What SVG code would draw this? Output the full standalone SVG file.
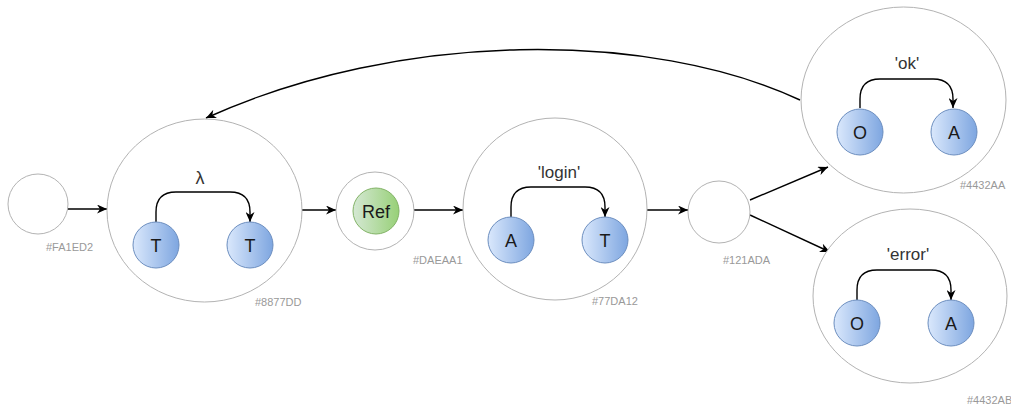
<svg xmlns="http://www.w3.org/2000/svg" width="1011" height="407" viewBox="0 0 1011 407">
  <defs>
    <linearGradient id="blueFill" x1="0" y1="0" x2="1" y2="0">
      <stop offset="0" stop-color="#dae8fc"/>
      <stop offset="1" stop-color="#7ea6e0"/>
    </linearGradient>
    <linearGradient id="greenFill" x1="0" y1="0" x2="1" y2="0">
      <stop offset="0" stop-color="#d5e8d4"/>
      <stop offset="1" stop-color="#97d077"/>
    </linearGradient>
    <marker id="arrow" viewBox="0 0 10 9" refX="10" refY="4.5" markerWidth="10" markerHeight="9" markerUnits="userSpaceOnUse" orient="auto">
      <path d="M0,0 L10,4.5 L0,9 L3,4.5 Z" fill="#000"/>
    </marker>
  </defs>
  <style>
    .outer { fill: #ffffff; stroke: #b3b3b3; stroke-width: 1; }
    .inner { fill: url(#blueFill); stroke: #6c8ebf; stroke-width: 1; }
    .ref { fill: url(#greenFill); stroke: #82b366; stroke-width: 1; }
    .edge { fill: none; stroke: #000; stroke-width: 1.4; marker-end: url(#arrow); }
    .glyph { font-family: "Liberation Sans", Arial, sans-serif; font-size: 18px; fill: #1a1a1a; text-anchor: middle; }
    .elabel { font-family: "Liberation Sans", Arial, sans-serif; font-size: 17px; fill: #333; text-anchor: middle; }
    .tag { font-family: "Liberation Sans", Arial, sans-serif; font-size: 11px; fill: #999; }
  </style>

  <rect width="1011" height="407" fill="#ffffff"/>

  <!-- connectors between the states -->
  <g id="connectors">
    <path class="edge" d="M67,209 H107"/>
    <path class="edge" d="M302,210 H336"/>
    <path class="edge" d="M414,210 H463"/>
    <path class="edge" d="M647,210 H688"/>
    <path class="edge" d="M750,200 L828,167"/>
    <path class="edge" d="M750,215 L830,252"/>
    <path class="edge" d="M800,100 C650,30 400,30 206,118"/>
  </g>

  <!-- initial state -->
  <g id="FA1ED2">
    <circle class="outer" cx="38" cy="204" r="30"/>
    <text class="tag" x="46" y="251">#FA1ED2</text>
  </g>

  <!-- lambda transition T -> T -->
  <g id="8877DD">
    <ellipse class="outer" cx="204.5" cy="210.5" rx="97.5" ry="91.5"/>
    <path class="edge" d="M156,222 V212 Q156,192 176,192 H230 Q250,192 250,212 V222"/>
    <text class="elabel" x="200" y="184" style="font-size:18px">λ</text>
    <circle class="inner" cx="156" cy="245" r="23"/>
    <text class="glyph" x="156" y="251.5">T</text>
    <circle class="inner" cx="250" cy="245" r="23"/>
    <text class="glyph" x="250" y="251.5">T</text>
    <text class="tag" x="255" y="306">#8877DD</text>
  </g>

  <!-- reference state -->
  <g id="DAEAA1">
    <circle class="outer" cx="375" cy="211" r="39"/>
    <circle class="ref" cx="376" cy="211" r="23"/>
    <text class="glyph" x="376" y="217.5">Ref</text>
    <text class="tag" x="413" y="264">#DAEAA1</text>
  </g>

  <!-- 'login' transition A -> T -->
  <g id="77DA12">
    <ellipse class="outer" cx="555" cy="209" rx="92" ry="91"/>
    <path class="edge" d="M511,217 V207 Q511,187 531,187 H585 Q605,187 605,207 V217"/>
    <text class="elabel" x="559" y="178">'login'</text>
    <circle class="inner" cx="511" cy="240" r="23"/>
    <text class="glyph" x="511" y="246.5">A</text>
    <circle class="inner" cx="605" cy="240" r="23"/>
    <text class="glyph" x="605" y="246.5">T</text>
    <text class="tag" x="592" y="305">#77DA12</text>
  </g>

  <!-- branching state -->
  <g id="121ADA">
    <circle class="outer" cx="719" cy="212" r="31"/>
    <text class="tag" x="723" y="264">#121ADA</text>
  </g>

  <!-- 'ok' transition O -> A -->
  <g id="4432AA">
    <ellipse class="outer" cx="903.5" cy="100" rx="102.5" ry="93"/>
    <path class="edge" d="M860,108 V99 Q860,79 880,79 H933 Q953,79 953,99 V108"/>
    <text class="elabel" x="907" y="69">'ok'</text>
    <circle class="inner" cx="860" cy="132" r="23"/>
    <text class="glyph" x="860" y="138.5">O</text>
    <circle class="inner" cx="954" cy="132" r="23"/>
    <text class="glyph" x="954" y="138.5">A</text>
    <text class="tag" x="960" y="189">#4432AA</text>
  </g>

  <!-- 'error' transition O -> A -->
  <g id="4432AB">
    <ellipse class="outer" cx="910" cy="296" rx="97" ry="87"/>
    <path class="edge" d="M857,300 V290 Q857,270 877,270 H931 Q951,270 951,290 V300"/>
    <text class="elabel" x="908" y="260">'error'</text>
    <circle class="inner" cx="857" cy="323" r="23"/>
    <text class="glyph" x="857" y="329.5">O</text>
    <circle class="inner" cx="951" cy="323" r="23"/>
    <text class="glyph" x="951" y="329.5">A</text>
    <text class="tag" x="967" y="404">#4432AB</text>
  </g>
</svg>
